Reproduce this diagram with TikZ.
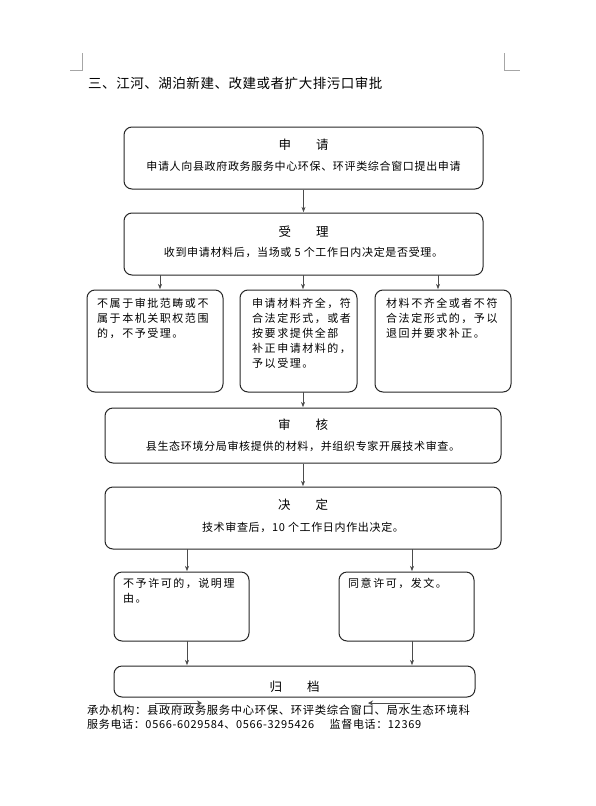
\documentclass[tikz,border=0pt]{standalone}
\usepackage{fontspec}
\usepackage{tikz}
\usetikzlibrary{arrows.meta}
\newfontfamily\cjk[LetterSpace=6]{Noto Sans CJK SC}
\newfontfamily\cjkwide[LetterSpace=14]{Noto Sans CJK SC}
\newfontfamily\cjktitle[LetterSpace=4]{Noto Sans CJK SC}

\begin{document}
\begin{tikzpicture}[x=1pt,y=-1pt,
  main node/.style={rectangle, draw=black!85, line width=1pt, rounded corners=8pt, inner sep=0pt},
  box text/.style={anchor=north west, inner sep=0pt, align=left, font=\cjkwide\fontsize{11}{15}\selectfont},
  head text/.style={font=\cjktitle\fontsize{12.5}{14}\selectfont},
  sub text/.style={font=\cjk\fontsize{11}{14}\selectfont},
  flow/.style={-{Stealth[length=6pt,width=4.5pt]}, line width=0.9pt, black!85},
  stray/.style={-{Stealth[length=5pt,width=5pt]}, line width=0.7pt, black!70}]
\useasboundingbox (0,0) rectangle (596,806);

% page corners
\coordinate (tl1) at (82,53);
\coordinate (tl2) at (82,70);
\coordinate (tl3) at (70,70);
\coordinate (tr1) at (504,53);
\coordinate (tr2) at (504,70);
\coordinate (tr3) at (520,70);
\draw[black!35, line width=0.6pt] (tl1) -- (tl2) -- (tl3);
\draw[black!35, line width=0.6pt] (tr1) -- (tr2) -- (tr3);

% heading
\node[anchor=west, inner sep=0pt, font=\cjktitle\fontsize{13.5}{15}\selectfont] (title) at (88,83) {三、江河、湖泊新建、改建或者扩大排污口审批};

% apply
\node[main node, minimum width=359pt, minimum height=62pt] (n1) at (303.5,158) {};
\node[head text] (h1) at (303.5,145) {申\hspace{2em}请};
\node[sub text] (s1) at (303.5,166) {申请人向县政府政务服务中心环保、环评类综合窗口提出申请};

% accept
\node[main node, minimum width=359pt, minimum height=62pt] (n2) at (303.5,244) {};
\node[head text] (h2) at (303.5,232) {受\hspace{2em}理};
\node[sub text] (s2) at (303.5,252) {收到申请材料后，当场或 5 个工作日内决定是否受理。};

% three cases
\node[main node, minimum width=136pt, minimum height=102pt] (n3) at (155,341) {};
\node[box text] (t3) at (97,298) {不属于审批范畴或不\\属于本机关职权范围\\的，不予受理。};

\node[main node, minimum width=117pt, minimum height=102pt] (n4) at (298.5,341) {};
\node[box text] (t4) at (252,298) {申请材料齐全，符\\合法定形式，或者\\按要求提供全部\\补正申请材料的，\\予以受理。};

\node[main node, minimum width=136pt, minimum height=102pt] (n5) at (443,341) {};
\node[box text] (t5) at (386,298) {材料不齐全或者不符\\合法定形式的，予以\\退回并要求补正。};

% review
\node[main node, minimum width=396pt, minimum height=55pt] (n6) at (303,435.5) {};
\node[head text] (h6) at (303,425) {审\hspace{2em}核};
\node[sub text] (s6) at (303,446) {县生态环境分局审核提供的材料，并组织专家开展技术审查。};

% decide
\node[main node, minimum width=396pt, minimum height=62pt] (n7) at (303,518) {};
\node[head text] (h7) at (303,505) {决\hspace{2em}定};
\node[sub text] (s7) at (303,527) {技术审查后，10 个工作日内作出决定。};

% results
\node[main node, minimum width=135pt, minimum height=69pt] (n8) at (181.5,606.5) {};
\node[box text] (t8) at (123,578) {不予许可的，说明理\\由。};

\node[main node, minimum width=135pt, minimum height=69pt] (n9) at (406.5,606.5) {};
\node[box text] (t9) at (348,578) {同意许可，发文。};

% archive
\node[main node, minimum width=361pt, minimum height=31pt] (n10) at (294.5,681.5) {};
\node[head text] (h10) at (294.5,687) {归\hspace{2em}档};

% footer
\node[anchor=west, inner sep=0pt, font=\cjk\fontsize{11.3}{13}\selectfont] (f1) at (87,710) {承办机构：县政府政务服务中心环保、环评类综合窗口、局水生态环境科};
\node[anchor=west, inner sep=0pt, font=\cjk\fontsize{11}{13}\selectfont] (f2) at (87,724) {服务电话：0566-6029584、0566-3295426\hspace{1.4em}监督电话：12369};

% arrow ends
\coordinate (a1) at (160,275);
\coordinate (a2) at (303,275);
\coordinate (a3) at (438,275);
\coordinate (b1) at (303,392);
\coordinate (c1) at (187,549);
\coordinate (c2) at (412,549);
\coordinate (d1) at (187,641);
\coordinate (d2) at (412,641);
\coordinate (e1) at (155,703);
\coordinate (e2) at (202,703);
\coordinate (e3) at (410,703);
\coordinate (e4) at (368,703);

\path[]
% apply -> accept
(n1.south) [flow] edge node [] {} (n2.north)

% accept -> cases
(a1) [flow] edge node [] {} (a1 |- n3.north)
(a2) [flow] edge node [] {} (a2 |- n4.north)
(a3) [flow] edge node [] {} (a3 |- n5.north)

% case -> review
(b1) [flow] edge node [] {} (b1 |- n6.north)

% review -> decide
(n6.south) [flow] edge node [] {} (n7.north)

% decide -> results
(c1) [flow] edge node [] {} (c1 |- n8.north)
(c2) [flow] edge node [] {} (c2 |- n9.north)

% results -> archive
(d1) [flow] edge node [] {} (d1 |- n10.north)
(d2) [flow] edge node [] {} (d2 |- n10.north)

% stray marks
(e1) [stray] edge node [] {} (e2)
(e3) [stray] edge node [] {} (e4)
;

\end{tikzpicture}
\end{document}
